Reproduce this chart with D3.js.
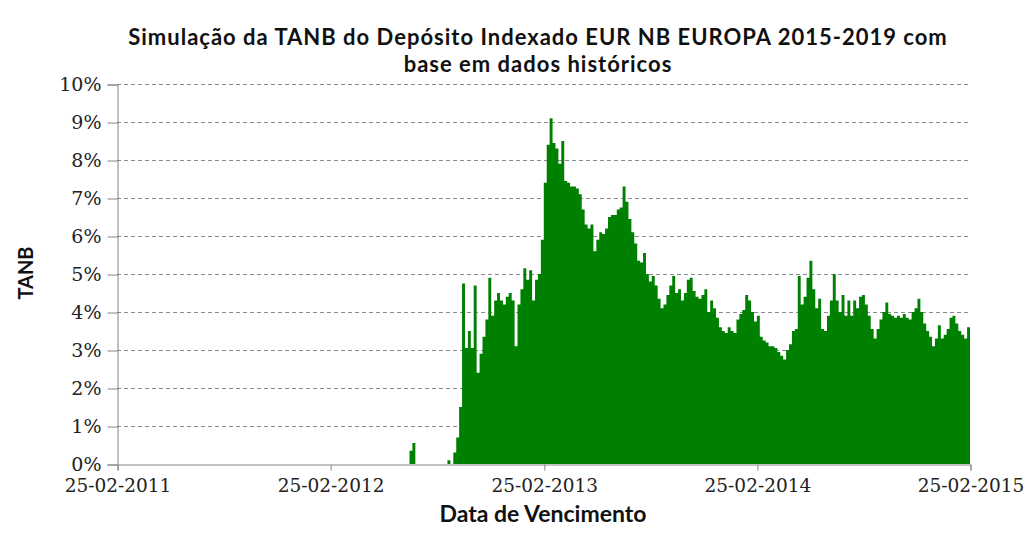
<!DOCTYPE html>
<html><head><meta charset="utf-8">
<script src="https://cdn.jsdelivr.net/npm/d3@7"></script>
<style>
html,body{margin:0;padding:0;background:#fff;}
svg{display:block;}
</style></head>
<body>
<svg id="c" width="1024" height="544"></svg>
<script>
// ---- data ----
const titleLines = ["Simulação da TANB do Depósito Indexado EUR NB EUROPA 2015-2019 com", "base em dados históricos"];
const yAxisTitle = "TANB";
const xAxisTitle = "Data de Vencimento";
const xTickLabels = ["25-02-2011","25-02-2012","25-02-2013","25-02-2014","25-02-2015"];
const yTickValues = [0,1,2,3,4,5,6,7,8,9,10];
const seriesStart = "2012-07-10";   // first observation
const seriesStepDays = 5;           // spacing between observations
// TANB (%) read from the picture, one value per observation
const tanbValues = [
 0.35,0.55,0,0,0,0,0,0,0,0,0,0,0,0.1,0,0.3,
 0.7,1.5,4.75,3.05,3.5,3.05,4.7,2.4,2.9,3.35,
 3.8,4.9,3.9,4.3,4.5,4.3,4.2,4.4,4.5,4.3,
 3.1,4.2,4.6,5.15,4.85,5.1,4.3,4.85,5.0,5.9,
 7.4,8.4,9.1,8.45,8.3,7.9,8.5,7.45,7.4,7.3,
 7.3,7.25,7.1,6.7,6.3,6.2,6.3,5.6,5.9,6.1,
 6.05,6.2,6.5,6.55,6.55,6.7,6.75,7.3,6.9,6.45,
 6.1,5.8,5.35,5.3,5.55,5.0,4.8,4.95,4.7,4.35,
 4.1,4.2,4.45,4.7,4.95,4.5,4.6,4.3,4.5,4.85,
 4.9,4.55,4.4,4.35,4.45,4.6,4.0,4.3,4.1,3.85,
 3.6,3.5,3.45,3.6,3.5,3.45,3.8,3.95,4.05,4.45,
 4.3,4.0,3.75,3.9,3.35,3.25,3.2,3.1,3.1,3.05,
 2.95,2.85,2.75,3.0,3.15,3.5,3.55,4.95,4.2,4.4,
 4.9,5.35,4.6,4.1,4.35,3.55,3.5,3.9,4.3,5.0,
 4.3,4.0,4.45,3.9,4.3,3.9,4.3,4.1,4.4,4.45,
 4.2,3.9,3.55,3.3,3.55,3.8,4.0,4.25,3.95,3.9,
 3.85,3.9,3.85,3.95,3.85,3.8,4.0,4.1,4.35,4.0,
 3.7,3.5,3.35,3.1,3.3,3.65,3.3,3.4,3.55,3.85,
 3.9,3.7,3.5,3.4,3.3,3.6,3.6
];

// ---- chart ----
const svg = d3.select("#c");
const m = {left:117, right:970, top:84, bottom:464};
const parseISO = d3.utcParse("%Y-%m-%d");
const parseTick = d3.utcParse("%d-%m-%Y");
const tickDates = xTickLabels.map(parseTick);
const start = parseISO(seriesStart);
const data = tanbValues.map((v,i)=>({date: d3.utcDay.offset(start, i*seriesStepDays), value: v}));

const x = d3.scaleUtc().domain([tickDates[0], tickDates[tickDates.length-1]]).range([m.left, m.right]);
const y = d3.scaleLinear().domain([0,10]).range([m.bottom, m.top]);

// gridlines
svg.append("g").selectAll("line").data(yTickValues.filter(d=>d>0)).join("line")
  .attr("x1", m.left).attr("x2", m.right)
  .attr("y1", d=>y(d)+0.5).attr("y2", d=>y(d)+0.5)
  .attr("stroke","#8a8a8a").attr("stroke-width",1).attr("stroke-dasharray","4,3");

// area
const area = d3.area().curve(d3.curveStepAfter)
  .x(d=>x(d.date)).y0(y(0)).y1(d=>y(d.value));
svg.append("path").datum(data).attr("d", area)
  .attr("fill","#008000");

// y axis
const yAxis = d3.axisLeft(y).tickValues(yTickValues).tickFormat(d=>d+"%").tickSize(10).tickPadding(6);
const gy = svg.append("g").attr("transform",`translate(${m.left+0.5},0.5)`).call(yAxis);
gy.select(".domain").attr("stroke","#868686");
gy.selectAll(".tick line").attr("stroke","#868686");
gy.selectAll(".tick text").attr("font-family","DejaVu Serif").attr("font-size",19).attr("fill","#222");

// x axis
const xAxis = d3.axisBottom(x).tickValues(tickDates).tickFormat((d,i)=>xTickLabels[i]).tickSize(6).tickPadding(8);
const gx = svg.append("g").attr("transform",`translate(0.5,${m.bottom+0.5})`).call(xAxis);
gx.select(".domain").attr("stroke","#868686");
gx.selectAll(".tick line").attr("stroke","#868686");
gx.selectAll(".tick text").attr("font-family","DejaVu Serif").attr("font-size",18.5).attr("fill","#222");

// titles
svg.append("g").selectAll("text").data(titleLines).join("text")
  .attr("x",538).attr("y",(d,i)=>45+i*27)
  .attr("text-anchor","middle").attr("font-family","Lato").attr("font-weight","bold")
  .attr("font-size",22).attr("letter-spacing","1px").attr("fill","#111").text(d=>d);

svg.append("text").attr("transform","translate(33,273) rotate(-90)")
  .attr("text-anchor","middle").attr("font-family","Lato").attr("font-weight","bold")
  .attr("font-size",20).attr("fill","#111").text(yAxisTitle);

svg.append("text").attr("x",543).attr("y",522)
  .attr("text-anchor","middle").attr("font-family","Lato").attr("font-weight","bold")
  .attr("font-size",23).attr("fill","#111").text(xAxisTitle);
</script>
</body></html>
